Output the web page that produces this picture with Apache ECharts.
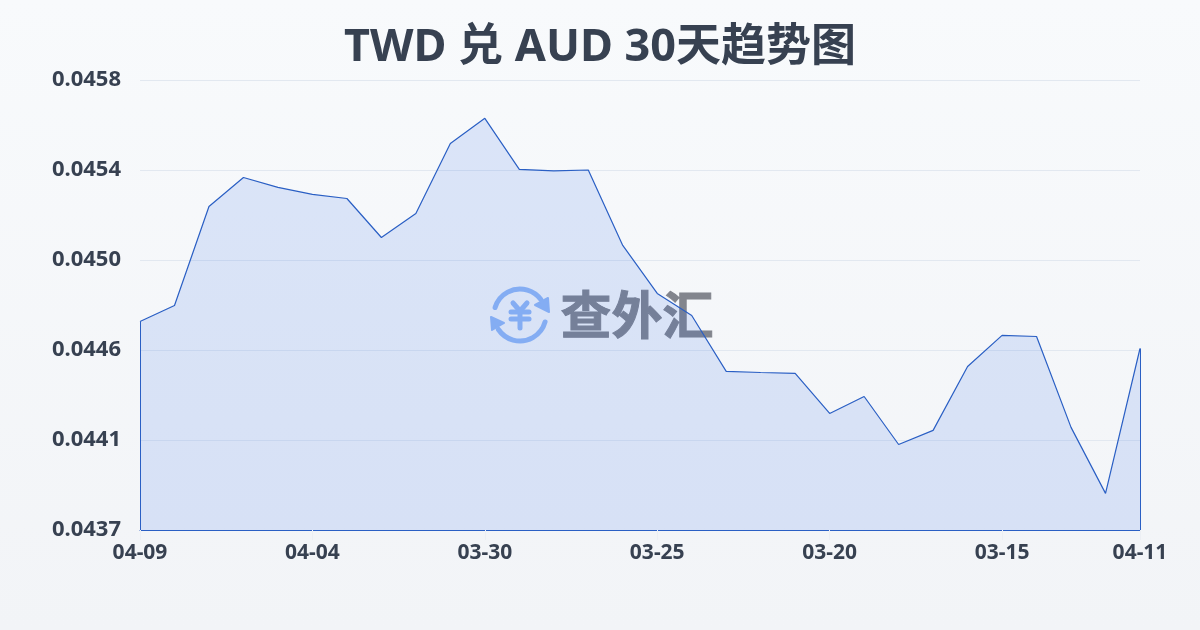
<!DOCTYPE html>
<html>
<head>
<meta charset="utf-8">
<style>
  html, body { margin: 0; padding: 0; }
  #main { width: 1200px; height: 630px; }
</style>
<script src="https://cdn.jsdelivr.net/npm/echarts@6/dist/echarts.min.js"></script>
</head>
<body>
<div id="main"></div>
<script>
const titleText = 'TWD 兑 AUD 30天趋势图';
const dates = ['04-09','04-08','04-07','04-06','04-05','04-04','04-03','04-02','04-01','03-31',
  '03-30','03-29','03-28','03-27','03-26','03-25','03-24','03-23','03-22','03-21',
  '03-20','03-19','03-18','03-17','03-16','03-15','03-14','03-13','03-12','04-11'];
const rates = [0.044693,0.044768,0.04523,0.045365,0.045319,0.045286,0.045267,0.045085,0.045197,0.045524,
  0.045641,0.045403,0.045396,0.0454,0.045048,0.044824,0.044721,0.04446,0.044455,0.044451,
  0.044264,0.044343,0.044119,0.044185,0.044483,0.044628,0.044623,0.044199,0.043891,0.044567];
const yMin = 0.04372;
const yMax = 0.04582;
const yStep = 0.00042;

const font = '"Noto Sans", "Noto Sans CJK SC", sans-serif';
const textColor = '#374151';
const lineColor = '#2a5fc4';
const logoColor = '#93b9f5';
const last = dates.length - 1;

// 水印里的 ¥ 和箭头
const logoBar = (points) => ({
  type: 'polyline',
  shape: { points: points },
  style: { stroke: logoColor, fill: null, lineWidth: 5, lineCap: 'round', lineJoin: 'round' }
});

const myChart = echarts.init(document.getElementById('main'));
myChart.setOption({
  animation: false,
  backgroundColor: new echarts.graphic.LinearGradient(0, 0, 0, 1, [
    { offset: 0, color: '#f8fafc' },
    { offset: 1, color: '#f2f4f7' }
  ]),
  title: {
    text: titleText,
    left: 'center',
    top: 21,
    textStyle: { color: textColor, fontSize: 45, fontWeight: 'bold', fontFamily: font }
  },
  grid: { left: 140, right: 60, top: 80, bottom: 100 },
  xAxis: {
    type: 'category',
    boundaryGap: false,
    data: dates,
    axisLine: { show: true, lineStyle: { color: lineColor, width: 1 } },
    axisTick: {
      show: true,
      length: 10,
      lineStyle: { color: '#eceff4', width: 1 },
      interval: (i) => i % 5 === 0 || i === last
    },
    axisLabel: {
      color: textColor,
      fontSize: 21,
      fontWeight: 'bold',
      fontFamily: font,
      margin: 13,
      interval: (i) => i % 5 === 0 || i === last,
      showMaxLabel: true
    }
  },
  yAxis: {
    type: 'value',
    min: yMin,
    max: yMax,
    interval: yStep,
    axisLine: { show: false },
    axisTick: { show: false },
    splitLine: { lineStyle: { color: '#e2e8f0', width: 1 } },
    axisLabel: {
      color: textColor,
      fontSize: 22,
      fontWeight: 'bold',
      fontFamily: font,
      margin: 19,
      formatter: (v) => v.toFixed(4)
    }
  },
  series: [{
    type: 'line',
    data: rates,
    symbol: 'none',
    smooth: false,
    lineStyle: { color: lineColor, width: 1.2 },
    areaStyle: { color: 'rgba(37,99,235,0.19)' },
    // 面积图两侧的竖边
    markLine: {
      silent: true,
      symbol: 'none',
      label: { show: false },
      lineStyle: { color: lineColor, width: 1, type: 'solid' },
      data: [
        [{ coord: [dates[0], yMin] }, { coord: [dates[0], rates[0]] }],
        [{ coord: [last, yMin] }, { coord: [last, rates[last]] }]
      ]
    }
  }],
  graphic: [{
    type: 'group',
    x: 485,
    y: 280,
    z: 1,
    children: [
      { type: 'arc', shape: { cx: 35, cy: 35, r: 26, startAngle: -2.85, endAngle: -0.64 }, style: { stroke: logoColor, fill: null, lineWidth: 5, lineCap: 'round' } },
      { type: 'arc', shape: { cx: 35, cy: 35, r: 26, startAngle: 0.27, endAngle: 2.55 }, style: { stroke: logoColor, fill: null, lineWidth: 5, lineCap: 'round' } },
      { type: 'polygon', shape: { points: [[63, 18], [64, 32], [50, 25]] }, style: { fill: logoColor, stroke: logoColor, lineWidth: 2, lineJoin: 'round' } },
      { type: 'polygon', shape: { points: [[6, 37], [19, 43], [7, 50]] }, style: { fill: logoColor, stroke: logoColor, lineWidth: 2, lineJoin: 'round' } },
      logoBar([[28, 23], [35, 31], [42, 23]]),
      logoBar([[26, 32], [44, 32]]),
      logoBar([[26, 39], [44, 39]]),
      logoBar([[35, 31], [35, 48]])
    ]
  }, {
    type: 'text',
    left: 560,
    top: 289,
    z: 1,
    style: { text: '查外汇', fill: '#82858d', stroke: '#82858d', lineWidth: 1, font: 'bold 51px "Noto Sans CJK SC", sans-serif' }
  }]
});
</script>
</body>
</html>
